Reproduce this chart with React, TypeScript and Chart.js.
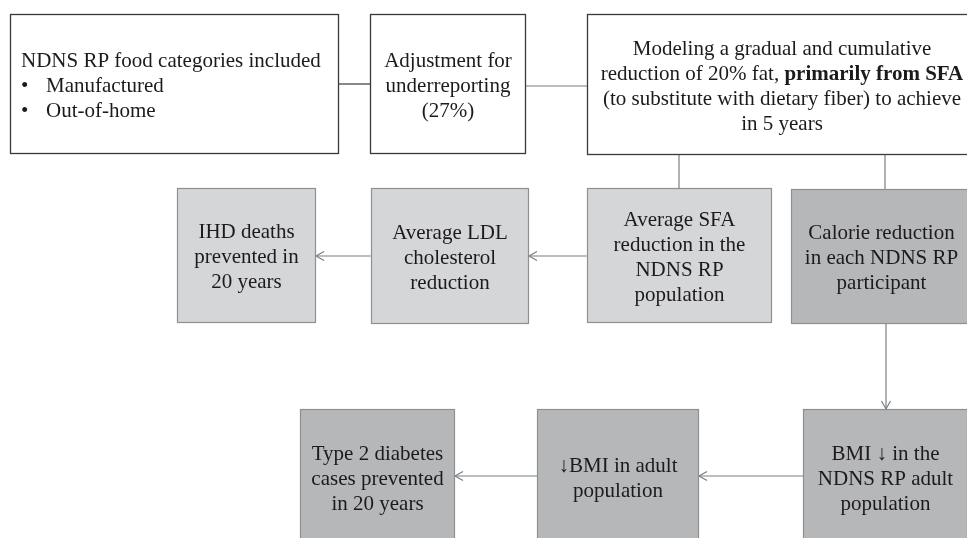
import React, { useEffect, useRef } from "react";
import { Chart, registerables } from "chart.js";

Chart.register(...registerables);

// ---- content (flow-chart nodes) ----
const nodeLabels: string[] = [
  "NDNS RP food categories included|• Manufactured|• Out-of-home",
  "Adjustment for|underreporting|(27%)",
  "Modeling a gradual and cumulative|reduction of 20% fat, **primarily from SFA**|(to substitute with dietary fiber) to achieve|in 5 years",
  "IHD deaths|prevented in|20 years",
  "Average LDL|cholesterol|reduction",
  "Average SFA|reduction in the|NDNS RP|population",
  "Calorie reduction|in each NDNS RP|participant",
  "Type 2 diabetes|cases prevented|in 20 years",
  "↓BMI in adult|population",
  "BMI ↓ in the|NDNS RP adult|population",
];
const nodeShade: string[] = ["white", "white", "white", "light", "light", "light", "dark", "dark", "dark", "dark"];

// ---- layout (in the chart's own coordinate units) ----
const nodeLeft: number[] = [10, 370, 587, 177, 371, 587, 791, 300, 537, 803];
const nodeRight: number[] = [339, 526, 990, 316, 529, 772, 972, 455, 699, 968];
const nodeTop: number[] = [14, 14, 14, 188, 188, 188, 189, 409, 409, 409];
const nodeBottom: number[] = [154, 154, 155, 323, 324, 323, 324, 545, 545, 545];
const nodeTextCenter: (number | null)[] = [null, null, 782, null, null, null, null, null, null, null];

// connectors: from node edge to node edge
const linkX1: number[] = [339, 526, 679, 885, 587, 371, 886, 803, 537];
const linkY1: number[] = [84, 86, 155, 155, 256, 256, 324, 476, 476];
const linkX2: number[] = [370, 587, 679, 885, 529, 316, 886, 699, 455];
const linkY2: number[] = [84, 86, 188, 189, 256, 256, 409, 476, 476];
const linkArrow: boolean[] = [false, false, false, false, true, true, true, true, true];
const linkDark: boolean[] = [true, false, false, false, false, false, false, false, false];

const FONT = "'Liberation Serif', 'Times New Roman', serif";
const FS = 21;
const LH = 25;

const fills: Record<string, string> = { white: "#ffffff", light: "#d5d6d8", dark: "#b6b7b9" };
const borders: Record<string, string> = { white: "#3a3a3a", light: "#8e8f91", dark: "#8e8f91" };

function parseRuns(line: string): { t: string; b: boolean }[] {
  const parts = line.split("**");
  return parts.map((t, i) => ({ t, b: i % 2 === 1 })).filter((r) => r.t.length > 0);
}

const flowPlugin = {
  id: "flow",
  afterDatasetsDraw(chart: any) {
    const ctx: CanvasRenderingContext2D = chart.ctx;
    const xs = chart.scales.x;
    const ys = chart.scales.y;
    const px = (v: number) => xs.getPixelForValue(v);
    const py = (v: number) => ys.getPixelForValue(v);
    ctx.save();
    // connectors
    for (let i = 0; i < linkX1.length; i++) {
      const x1 = px(linkX1[i]), y1 = py(linkY1[i]), x2 = px(linkX2[i]), y2 = py(linkY2[i]);
      ctx.strokeStyle = linkDark[i] ? "#3a3a3a" : "#7d7e80";
      ctx.lineWidth = 1.2;
      ctx.beginPath();
      ctx.moveTo(x1, y1);
      ctx.lineTo(x2, y2);
      ctx.stroke();
      if (linkArrow[i]) {
        const ang = Math.atan2(y2 - y1, x2 - x1);
        const L = 8, W = 4.5;
        const bx = x2 - L * Math.cos(ang), by = y2 - L * Math.sin(ang);
        const nx = -Math.sin(ang), ny = Math.cos(ang);
        ctx.beginPath();
        ctx.moveTo(bx + nx * W, by + ny * W);
        ctx.lineTo(x2, y2);
        ctx.lineTo(bx - nx * W, by - ny * W);
        ctx.stroke();
      }
    }
    // nodes
    for (let i = 0; i < nodeLabels.length; i++) {
      const x0 = px(nodeLeft[i]), x1 = px(nodeRight[i]);
      const y0 = py(nodeTop[i]), y1 = py(nodeBottom[i]);
      const shade = nodeShade[i];
      ctx.fillStyle = fills[shade];
      ctx.fillRect(x0, y0, x1 - x0, y1 - y0);
      ctx.strokeStyle = borders[shade];
      ctx.lineWidth = shade === "white" ? 1.3 : 1.2;
      ctx.strokeRect(x0 + 0.5, y0 + 0.5, x1 - x0 - 1, y1 - y0 - 1);

      const lines = nodeLabels[i].split("|");
      const cy = (y0 + y1) / 2;
      const n = lines.length;
      ctx.fillStyle = "#1c1a1b";
      ctx.textBaseline = "alphabetic";
      lines.forEach((line, li) => {
        const y = cy + (li - (n - 1) / 2) * LH + 7.5;
        if (i === 0) {
          ctx.textAlign = "left";
          ctx.font = `${FS}px ${FONT}`;
          if (line.startsWith("• ")) {
            ctx.fillText("•", x0 + 11, y);
            ctx.fillText(line.slice(2), x0 + 36, y);
          } else {
            ctx.fillText(line, x0 + 11, y);
          }
          return;
        }
        const runs = parseRuns(line);
        let total = 0;
        runs.forEach((r) => {
          ctx.font = `${r.b ? "bold " : ""}${FS}px ${FONT}`;
          total += ctx.measureText(r.t).width;
        });
        const tc = nodeTextCenter[i];
        const cx = tc !== null ? px(tc) : (x0 + x1) / 2;
        let x = cx - total / 2;
        ctx.textAlign = "left";
        runs.forEach((r) => {
          ctx.font = `${r.b ? "bold " : ""}${FS}px ${FONT}`;
          ctx.fillText(r.t, x, y);
          x += ctx.measureText(r.t).width;
        });
      });
    }
    ctx.restore();
  },
};

export default function App() {
  const ref = useRef<HTMLCanvasElement>(null);
  useEffect(() => {
    document.body.style.margin = "0";
    const canvas = ref.current!;
    const centers = nodeLabels.map((_, i) => ({
      x: (nodeLeft[i] + nodeRight[i]) / 2,
      y: (nodeTop[i] + nodeBottom[i]) / 2,
    }));
    const chart = new Chart(canvas, {
      type: "scatter",
      data: {
        datasets: [{ data: centers, pointRadius: 0, pointHoverRadius: 0 }],
      },
      options: {
        animation: false,
        responsive: false,
        devicePixelRatio: 1,
        layout: { padding: 0 },
        plugins: { legend: { display: false }, tooltip: { enabled: false } },
        events: [],
        scales: {
          x: { type: "linear", min: 0, max: 967, display: false },
          y: { type: "linear", min: 0, max: 538, reverse: true, display: false },
        },
      },
      plugins: [flowPlugin],
    });
    return () => chart.destroy();
  }, []);
  return (
    <div style={{ width: 967, height: 538, background: "#fff" }}>
      <canvas ref={ref} width={967} height={538} style={{ display: "block" }} />
    </div>
  );
}
